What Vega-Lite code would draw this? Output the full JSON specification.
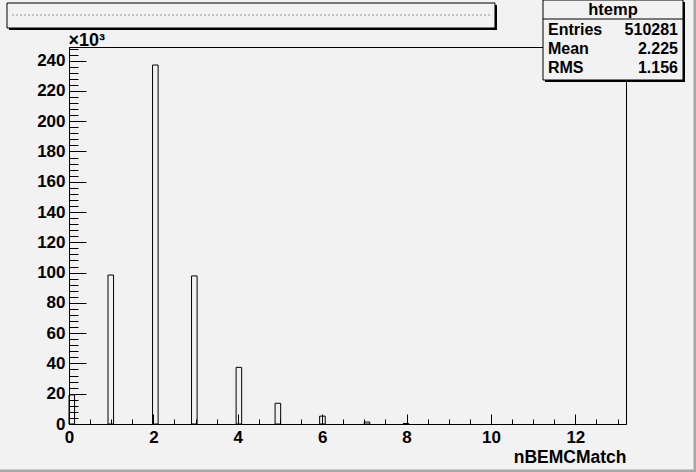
{
  "$schema": "https://vega.github.io/schema/vega-lite/v6.json",
  "width": 557,
  "height": 377,
  "autosize": {"type": "none"},
  "padding": {"left": 69, "top": 47, "right": 70, "bottom": 48},
  "background": "#f2f2f2",
  "config": {
    "view": {"stroke": "black", "strokeWidth": 1},
    "font": "Liberation Sans",
    "axis": {
      "domainColor": "black", "domainWidth": 1, "tickColor": "black", "tickWidth": 1,
      "labelColor": "black", "titleColor": "black", "grid": false,
      "labelOverlap": false, "labelBound": false, "labelFlush": false,
      "labelFont": "Liberation Sans", "titleFont": "Liberation Sans"
    }
  },
  "datasets": {
    "hist": [
      {"bin_start": 0.0, "bin_end": 0.132, "count": 19200},
      {"bin_start": 0.924, "bin_end": 1.056, "count": 98400},
      {"bin_start": 1.98, "bin_end": 2.112, "count": 237100},
      {"bin_start": 2.904, "bin_end": 3.036, "count": 97800},
      {"bin_start": 3.96, "bin_end": 4.092, "count": 37400},
      {"bin_start": 4.884, "bin_end": 5.016, "count": 13700},
      {"bin_start": 5.94, "bin_end": 6.072, "count": 5200},
      {"bin_start": 6.996, "bin_end": 7.128, "count": 1300},
      {"bin_start": 7.92, "bin_end": 8.052, "count": 350}
    ],
    "stats": [
      {"label": "Entries", "value": "510281"},
      {"label": "Mean", "value": "2.225"},
      {"label": "RMS", "value": "1.156"}
    ]
  },
  "layer": [
    {
      "data": {"values": [{}]},
      "mark": {"type": "rect", "fill": "#a8a8a8"},
      "encoding": {
        "x": {"datum": 14.799, "type": "quantitative", "axis": null},
        "x2": {"datum": 14.953},
        "y": {"datum": 283345, "type": "quantitative", "axis": null},
        "y2": {"datum": -36987}
      }
    },
    {
      "data": {"values": [{}]},
      "mark": {"type": "rect", "fill": "#a8a8a8"},
      "encoding": {
        "x": {"datum": -1.754, "type": "quantitative", "axis": null},
        "x2": {"datum": 14.953},
        "y": {"datum": -30052, "type": "quantitative", "axis": null},
        "y2": {"datum": -36987}
      }
    },
    {
      "data": {"values": [{}]},
      "mark": {"type": "rect", "fill": "black"},
      "encoding": {
        "x": {"datum": -1.422, "type": "quantitative", "axis": null},
        "x2": {"datum": 10.143},
        "y": {"datum": 276740, "type": "quantitative", "axis": null},
        "y2": {"datum": 260228}
      }
    },
    {
      "data": {"values": [{}]},
      "mark": {"type": "rect", "fill": "#f2f2f2", "stroke": "black", "strokeWidth": 1},
      "encoding": {
        "x": {"datum": -1.469, "type": "quantitative", "axis": null},
        "x2": {"datum": 10.095},
        "y": {"datum": 278061, "type": "quantitative", "axis": null},
        "y2": {"datum": 261549}
      }
    },
    {
      "data": {"values": [{}]},
      "mark": {"type": "rule", "color": "#9a9a9a", "strokeWidth": 1, "strokeDash": [2, 2]},
      "encoding": {
        "x": {"datum": -1.351, "type": "quantitative", "axis": null},
        "x2": {"datum": 9.977},
        "y": {"datum": 270135, "type": "quantitative", "axis": null}
      }
    },
    {
      "data": {"name": "hist"},
      "mark": {"type": "rect", "opacity": 0},
      "encoding": {
        "x": {
          "field": "bin_start", "type": "quantitative",
          "scale": {"domain": [0, 13.2], "nice": false, "zero": false, "padding": 0},
          "axis": {
            "orient": "bottom",
            "values": [0, 0.5, 1, 1.5, 2, 2.5, 3, 3.5, 4, 4.5, 5, 5.5, 6, 6.5, 7, 7.5, 8, 8.5, 9, 9.5, 10, 10.5, 11, 11.5, 12, 12.5, 13],
            "tickSize": -5, "labels": false, "domain": false, "title": null
          }
        },
        "x2": {"field": "bin_end"},
        "y": {
          "field": "count", "type": "quantitative",
          "scale": {"domain": [0, 249000], "nice": false, "padding": 0},
          "axis": {
            "orient": "left",
            "values": [0, 4000, 8000, 12000, 16000, 20000, 24000, 28000, 32000, 36000, 40000, 44000, 48000, 52000, 56000, 60000, 64000, 68000, 72000, 76000, 80000, 84000, 88000, 92000, 96000, 100000, 104000, 108000, 112000, 116000, 120000, 124000, 128000, 132000, 136000, 140000, 144000, 148000, 152000, 156000, 160000, 164000, 168000, 172000, 176000, 180000, 184000, 188000, 192000, 196000, 200000, 204000, 208000, 212000, 216000, 220000, 224000, 228000, 232000, 236000, 240000, 244000, 248000],
            "tickSize": -9, "labels": false, "domain": false, "title": null
          }
        },
        "y2": {"datum": 0}
      }
    },
    {
      "data": {"name": "hist"},
      "mark": {"type": "rect", "fill": "#f2f2f2", "fillOpacity": 0, "stroke": "black", "strokeWidth": 1},
      "encoding": {
        "x": {
          "field": "bin_start", "type": "quantitative",
          "scale": {"domain": [0, 13.2], "nice": false, "zero": false, "padding": 0},
          "axis": {
            "orient": "bottom",
            "values": [0, 2, 4, 6, 8, 10, 12],
            "tickSize": -10, "labelPadding": 15, "labelFontSize": 17, "labelFontWeight": "bold",
            "labelBaseline": "top", "labelAlign": "center",
            "title": "nBEMCMatch", "titleFontSize": 17.5, "titleFontWeight": "bold",
            "titleX": 557, "titleY": 38, "titleAlign": "right", "titleBaseline": "alphabetic"
          }
        },
        "x2": {"field": "bin_end"},
        "y": {
          "field": "count", "type": "quantitative",
          "scale": {"domain": [0, 249000], "nice": false, "padding": 0},
          "axis": {
            "orient": "left",
            "values": [0, 20000, 40000, 60000, 80000, 100000, 120000, 140000, 160000, 180000, 200000, 220000, 240000],
            "labelExpr": "format(datum.value / 1000, 'd')",
            "tickSize": -17, "labelPadding": 21, "labelFontSize": 17, "labelFontWeight": "bold",
            "labelAlign": "right", "labelBaseline": "middle",
            "title": "×10³", "titleAngle": 0, "titleFontSize": 18, "titleFontWeight": "bold",
            "titleX": -1, "titleY": -2, "titleAlign": "left", "titleBaseline": "alphabetic"
          }
        },
        "y2": {"datum": 0}
      }
    },
    {
      "data": {"values": [{}]},
      "mark": {"type": "rect", "fill": "black"},
      "encoding": {
        "x": {"datum": 11.280, "type": "quantitative", "axis": null},
        "x2": {"datum": 14.598},
        "y": {"datum": 278721, "type": "quantitative", "axis": null},
        "y2": {"datum": 225883}
      }
    },
    {
      "data": {"values": [{}]},
      "mark": {"type": "rect", "fill": "#f2f2f2", "stroke": "black", "strokeWidth": 1},
      "encoding": {
        "x": {"datum": 11.233, "type": "quantitative", "axis": null},
        "x2": {"datum": 14.551},
        "y": {"datum": 280042, "type": "quantitative", "axis": null},
        "y2": {"datum": 227204}
      }
    },
    {
      "data": {"values": [{}]},
      "mark": {"type": "rule", "color": "black", "strokeWidth": 1},
      "encoding": {
        "x": {"datum": 11.233, "type": "quantitative", "axis": null},
        "x2": {"datum": 14.551},
        "y": {"datum": 267493, "type": "quantitative", "axis": null}
      }
    },
    {
      "data": {"values": [{}]},
      "mark": {"type": "text", "font": "Liberation Sans", "fontWeight": "bold", "fontSize": 16.5, "align": "center", "baseline": "middle", "color": "black"},
      "encoding": {
        "x": {"datum": 12.892, "type": "quantitative", "axis": null},
        "y": {"datum": 273437, "type": "quantitative", "axis": null},
        "text": {"value": "htemp"}
      }
    },
    {
      "data": {"name": "stats"},
      "transform": [{"filter": "datum.label === 'Entries'"}],
      "layer": [
        {
          "mark": {"type": "text", "font": "Liberation Sans", "fontWeight": "bold", "fontSize": 16, "align": "left", "baseline": "middle", "color": "black"},
          "encoding": {
            "x": {"datum": 11.351, "type": "quantitative", "axis": null},
            "y": {"datum": 260228, "type": "quantitative", "axis": null},
            "text": {"field": "label"}
          }
        },
        {
          "mark": {"type": "text", "font": "Liberation Sans", "fontWeight": "bold", "fontSize": 16, "align": "right", "baseline": "middle", "color": "black"},
          "encoding": {
            "x": {"datum": 14.432, "type": "quantitative", "axis": null},
            "y": {"datum": 260228, "type": "quantitative", "axis": null},
            "text": {"field": "value"}
          }
        }
      ]
    },
    {
      "data": {"name": "stats"},
      "transform": [{"filter": "datum.label === 'Mean'"}],
      "layer": [
        {
          "mark": {"type": "text", "font": "Liberation Sans", "fontWeight": "bold", "fontSize": 16, "align": "left", "baseline": "middle", "color": "black"},
          "encoding": {
            "x": {"datum": 11.351, "type": "quantitative", "axis": null},
            "y": {"datum": 247679, "type": "quantitative", "axis": null},
            "text": {"field": "label"}
          }
        },
        {
          "mark": {"type": "text", "font": "Liberation Sans", "fontWeight": "bold", "fontSize": 16, "align": "right", "baseline": "middle", "color": "black"},
          "encoding": {
            "x": {"datum": 14.432, "type": "quantitative", "axis": null},
            "y": {"datum": 247679, "type": "quantitative", "axis": null},
            "text": {"field": "value"}
          }
        }
      ]
    },
    {
      "data": {"name": "stats"},
      "transform": [{"filter": "datum.label === 'RMS'"}],
      "layer": [
        {
          "mark": {"type": "text", "font": "Liberation Sans", "fontWeight": "bold", "fontSize": 16, "align": "left", "baseline": "middle", "color": "black"},
          "encoding": {
            "x": {"datum": 11.351, "type": "quantitative", "axis": null},
            "y": {"datum": 235130, "type": "quantitative", "axis": null},
            "text": {"field": "label"}
          }
        },
        {
          "mark": {"type": "text", "font": "Liberation Sans", "fontWeight": "bold", "fontSize": 16, "align": "right", "baseline": "middle", "color": "black"},
          "encoding": {
            "x": {"datum": 14.432, "type": "quantitative", "axis": null},
            "y": {"datum": 235130, "type": "quantitative", "axis": null},
            "text": {"field": "value"}
          }
        }
      ]
    }
  ],
  "resolve": {"axis": {"x": "independent", "y": "independent"}}
}
